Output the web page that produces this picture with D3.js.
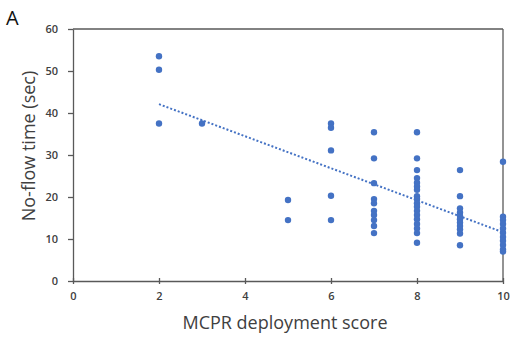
<!DOCTYPE html>
<html><head><meta charset="utf-8">
<script src="https://cdn.jsdelivr.net/npm/d3@7"></script>
<style>body{margin:0;background:#fff;} text{font-family:"Open Sans",Lato,sans-serif;}</style>
</head><body>
<svg id="c" width="510" height="338"></svg>
<script>
const scores = [2,2,2,3,5,5,6,6,6,6,6,
  7,7,7,7,7,7,7,7,7,7,
  8,8,8,8,8,8,8,8,8,8,8,8,8,8,8,8,8,8,
  9,9,9,9,9,9,9,9,9,9,9,
  10,10,10,10,10,10,10,10,10,10,10];
const noFlow = [53.5,50.3,37.5,37.5,19.3,14.5,37.5,36.5,31.1,20.3,14.5,
  35.4,29.2,23.3,19.5,18.5,16.7,15.7,14.5,13.1,11.4,
  35.4,29.2,26.4,24.5,23.4,22.5,21.7,20.2,19.5,18.5,17.7,16.7,15.7,14.7,13.6,12.5,11.4,9.1,
  26.4,20.2,17.3,16.3,15.5,14.7,13.9,13.1,12.3,11.3,8.5,
  28.4,15.3,14.5,13.6,12.5,11.5,10.5,9.6,8.6,7.5,7.0];
const xTicks = [0,2,4,6,8,10];
const yTicks = [0,10,20,30,40,50,60];
// linear trendline end points (score, seconds)
const trendX = [2,10];
const trendY = [42.1,11.6];

const svg = d3.select("#c");
const x = d3.scaleLinear().domain([0,10]).range([73,503]);
const y = d3.scaleLinear().domain([0,60]).range([281,29]);
const axisCol = "#595959";

// frame top/right
svg.append("line").attr("x1",x(0)).attr("x2",x(10)).attr("y1",y(60)).attr("y2",y(60)).attr("stroke",axisCol).attr("stroke-width",1.3);
svg.append("line").attr("x1",x(10)).attr("x2",x(10)).attr("y1",y(0)).attr("y2",y(60)).attr("stroke",axisCol).attr("stroke-width",1.3);

const xa = svg.append("g").attr("transform",`translate(0,${y(0)})`)
  .call(d3.axisBottom(x).tickValues(xTicks).tickSize(3).tickSizeOuter(0).tickPadding(8));
xa.selectAll(".tick line").attr("y1",-3);
const ya = svg.append("g").attr("transform",`translate(${x(0)},0)`)
  .call(d3.axisLeft(y).tickValues(yTicks).tickSize(5).tickSizeOuter(0).tickPadding(10));
[xa,ya].forEach(a=>{
  a.selectAll("path,line").attr("stroke",axisCol).attr("stroke-width",1.3);
  a.selectAll("text").attr("fill","#404040").attr("font-size",11).attr("font-weight","600").attr("font-family","'Open Sans',sans-serif");
});

// trend
svg.append("line")
  .attr("x1",x(trendX[0])).attr("y1",y(trendY[0]))
  .attr("x2",x(trendX[1])).attr("y2",y(trendY[1]))
  .attr("stroke","#4472C4").attr("stroke-width",2).attr("stroke-dasharray","2,2");

svg.append("g").selectAll("circle").data(scores).join("circle")
  .attr("cx",(d)=>x(d)).attr("cy",(d,i)=>y(noFlow[i])).attr("r",3.2).attr("fill","#4472C4");

svg.append("text").attr("x",285).attr("y",329).attr("text-anchor","middle")
  .attr("font-size",18).attr("fill","#404040").text("MCPR deployment score");
svg.append("text").attr("transform",`translate(35,146) rotate(-90)`).attr("text-anchor","middle")
  .attr("font-size",18).attr("fill","#404040").text("No-flow time (sec)");
svg.append("text").attr("x",6).attr("y",25).attr("font-size",20).attr("fill","#111").text("A");
</script>
</body></html>
